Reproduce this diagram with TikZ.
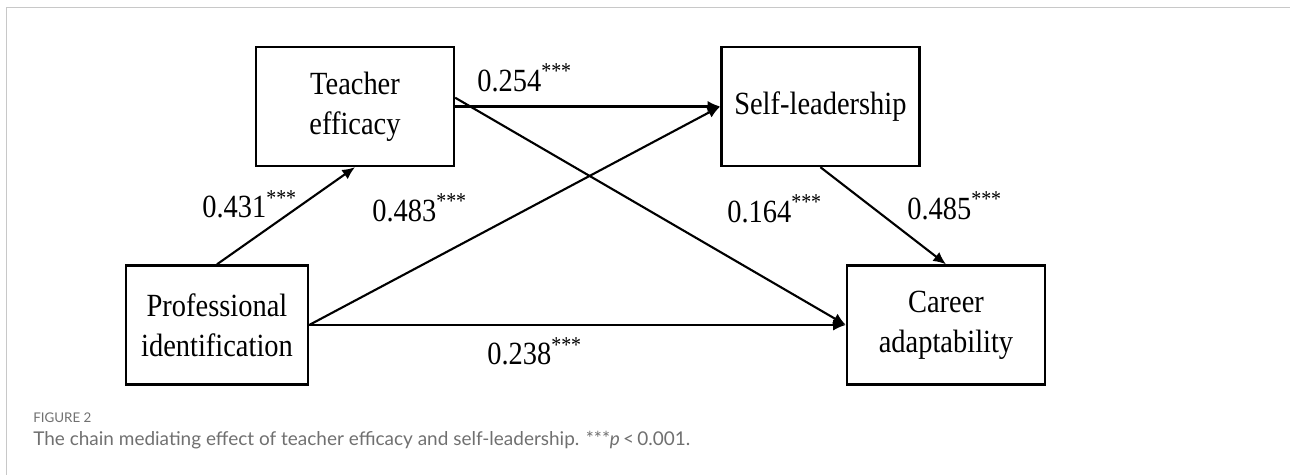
\documentclass[tikz,border=0pt]{standalone}
\usepackage{fontspec}
\setmainfont{Liberation Serif}
\newfontfamily\diagfont[FakeStretch=0.88]{Liberation Serif}
\newfontfamily\capfont{Lato}
\usepackage{xcolor}
\usepackage{tikz}
\usetikzlibrary{arrows.meta, positioning}
\definecolor{capgray}{HTML}{707070}
\definecolor{framegray}{HTML}{C8C8C8}
\newcommand{\sigstars}{\textsuperscript{***}}

\begin{document}
\begin{tikzpicture}[>={Latex[length=9pt,width=8pt]}]
        \tikzstyle{var_box} = [rectangle, draw=black, line width=1.7pt, minimum width=4.95cm, minimum height=2.975cm, align=center, font=\diagfont\fontsize{23}{28.5}\selectfont]
        \tikzstyle{path_arrow} = [line width=1.5pt, ->]
        \tikzstyle{coef} = [inner sep=0pt, anchor=base west, font=\diagfont\fontsize{23}{26}\selectfont]
        \tikzstyle{cap_text} = [inner sep=0pt, anchor=base west, text=capgray]

        % Page frame
        \useasboundingbox (0,0) rectangle (32.25,11.875);
        \draw [framegray, line width=0.7pt] (0.15,0) -- (0.15,11.675) -- (32.25,11.675);

        % Variables
        \node (te) [var_box] at (8.875,9.2125) {Teacher\\efficacy};
        \node (sl) [var_box, right=6.625cm of te] {Self-leadership};
        \node (pi) [var_box, minimum width=4.55cm] at (5.425,3.75) {Professional\\identification};
        \node (ca) [var_box] at (23.65,3.75) {Career\\adaptability};

        % Paths
        \draw [path_arrow] (pi.north) -- (te.south);
        \draw [path_arrow] (te.east) -- (sl.west);
        \draw [path_arrow] (te.5) -- (ca.west);
        \draw [path_arrow] (pi.east) -- (sl.west);
        \draw [path_arrow] (pi.east) -- (ca.west);
        \draw [path_arrow] (sl.south) -- (ca.north);

        % Coefficients
        \node (c431) [coef] at (5.05,6.425) {0.431\sigstars};
        \node (c483) [coef] at (9.3,6.3375) {0.483\sigstars};
        \node (c254) [coef] at (11.925,9.583) {0.254\sigstars};
        \node (c164) [coef] at (18.175,6.3075) {0.164\sigstars};
        \node (c485) [coef] at (22.675,6.392) {0.485\sigstars};
        \node (c238) [coef] at (12.175,2.75) {0.238\sigstars};

        % Caption
        \node (fig) [cap_text, font=\capfont\fontsize{9.5}{10}\selectfont] at (0.825,1.3) {FIGURE 2};
        \node (cap) [cap_text, font=\capfont\fontsize{13.5}{15}\selectfont] at (0.825,0.725) {The chain mediating effect of teacher efficacy and self-leadership. ***\textit{p}\,<\,0.001.};
    \end{tikzpicture}
\end{document}
